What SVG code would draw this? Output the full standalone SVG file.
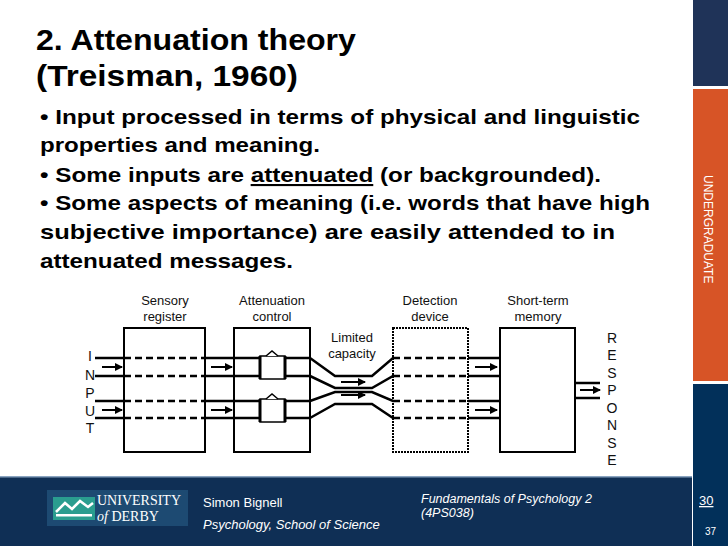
<svg xmlns="http://www.w3.org/2000/svg" width="728" height="546" viewBox="0 0 728 546">
<style>
.t{font-family:"Liberation Sans",Arial,sans-serif;font-weight:bold;fill:#000}
.d{font-family:"Liberation Sans",Arial,sans-serif;font-size:13px;fill:#111;text-anchor:middle}
.l{font-family:"Liberation Sans",Arial,sans-serif;font-size:14px;fill:#111;text-anchor:middle}
.box{fill:#fff;stroke:#000;stroke-width:2}
.sol{stroke:#000;stroke-width:2.5;fill:none}
.das{stroke:#000;stroke-width:2.5;fill:none;stroke-dasharray:7 4}
.ar{stroke:#000;stroke-width:2;marker-end:url(#ah)}
.f{font-family:"Liberation Sans",Arial,sans-serif;fill:#fff}
</style>
<defs><marker id="ah" markerWidth="8" markerHeight="8" refX="7" refY="4" orient="auto" markerUnits="userSpaceOnUse"><path d="M0,0L8,4L0,8z" fill="#000"/></marker></defs>
<rect width="728" height="546" fill="#fff"/>
<rect x="693" y="0" width="35" height="86" fill="#1f3358"/>
<rect x="693" y="89" width="35" height="292" fill="#d75426"/>
<rect x="693" y="384" width="35" height="162" fill="#02305a"/>
<text class="f" font-size="12" transform="translate(704,175) rotate(90)">UNDERGRADUATE</text>
<text class="t" font-size="29" x="36" y="50" textLength="320" lengthAdjust="spacingAndGlyphs">2. Attenuation theory</text>
<text class="t" font-size="29" x="36" y="86" textLength="262" lengthAdjust="spacingAndGlyphs">(Treisman, 1960)</text>
<g class="t" font-size="21">
<text x="40" y="124" textLength="600" lengthAdjust="spacingAndGlyphs">• Input processed in terms of physical and linguistic</text>
<text x="40" y="152" textLength="280" lengthAdjust="spacingAndGlyphs">properties and meaning.</text>
<text x="40" y="182" textLength="561" lengthAdjust="spacingAndGlyphs">• Some inputs are <tspan text-decoration="underline">attenuated</tspan> (or backgrounded).</text>
<text x="40" y="210" textLength="610" lengthAdjust="spacingAndGlyphs">• Some aspects of meaning (i.e. words that have high</text>
<text x="40" y="239" textLength="575" lengthAdjust="spacingAndGlyphs">subjective importance) are easily attended to in</text>
<text x="40" y="268" textLength="253" lengthAdjust="spacingAndGlyphs">attenuated messages.</text>
</g>
<g id="labels">
<text class="d" x="165" y="305">Sensory</text><text class="d" x="165" y="321">register</text>
<text class="d" x="272" y="305">Attenuation</text><text class="d" x="272" y="321">control</text>
<text class="d" x="430" y="305">Detection</text><text class="d" x="430" y="321">device</text>
<text class="d" x="538" y="305">Short-term</text><text class="d" x="538" y="321">memory</text>
<text class="d" x="352" y="342">Limited</text><text class="d" x="352" y="358">capacity</text>
<g class="l"><text x="90" y="361">I</text><text x="90" y="380">N</text><text x="90" y="398">P</text><text x="90" y="416">U</text><text x="90" y="433">T</text></g>
<g class="l"><text x="612" y="343">R</text><text x="612" y="360">E</text><text x="612" y="378">S</text><text x="612" y="395">P</text><text x="612" y="413">O</text><text x="612" y="430">N</text><text x="612" y="448">S</text><text x="612" y="465">E</text></g>
</g>
<g id="connectors">
<path class="sol" d="M95,358H234M95,376H234M95,401H234M95,418H234"/>
<path class="sol" d="M310,358L335,376H372L393,358H500M310,376L335,388H372L393,376H500M310,401L335,392H372L393,401H500M310,418L335,404H372L393,418H500"/>
<path class="sol" d="M575,383H600M575,398H600"/>
<line class="ar" x1="102" y1="367" x2="122" y2="367"/><line class="ar" x1="102" y1="410" x2="122" y2="410"/>
<line class="ar" x1="211" y1="367" x2="232" y2="367"/><line class="ar" x1="211" y1="410" x2="232" y2="410"/>
<line class="ar" x1="341" y1="382" x2="365" y2="382"/><line class="ar" x1="341" y1="395" x2="365" y2="395"/>
<line class="ar" x1="475" y1="367" x2="497" y2="367"/><line class="ar" x1="475" y1="410" x2="497" y2="410"/>
<line class="ar" x1="580" y1="390" x2="600" y2="390"/>
</g>
<g id="sensory"><rect class="box" x="124" y="328" width="81" height="124"/><path class="das" d="M124,358H205M124,376H205M124,401H205M124,418H205"/></g>
<g id="attenuation"><rect class="box" x="234" y="328" width="76" height="124" stroke-width="1.5"/>
<path class="sol" d="M234,358H310M234,376H310M234,401H310M234,418H310"/>
<g fill="#fff" stroke="#000" stroke-width="1.5"><rect x="260" y="356" width="25" height="23"/><rect x="260" y="399" width="25" height="23"/><path d="M266,356l6,-5l6,5M266,399l6,-5l6,5"/></g>
<path stroke="#000" stroke-width="3" d="M260,356v23M285,356v23M260,399v23M285,399v23"/></g>
<g id="detection"><rect class="box" x="393" y="328" width="75" height="124" stroke-dasharray="2 1"/><path class="das" d="M393,358H468M393,376H468M393,401H468M393,418H468"/></g>
<g id="stm"><rect class="box" x="500" y="328" width="75" height="124"/></g>
<rect x="0" y="477" width="692" height="69" fill="#0f2f55"/>
<rect x="0" y="476" width="692" height="1.5" fill="#8aa4c0"/>
<rect x="47" y="490" width="141" height="36" fill="#1d4a72"/>
<rect x="53" y="497" width="42" height="23" fill="#2a9d8f"/>
<path d="M56,512l9,-9l7,6l8,-8l8,6l5,-4" fill="none" stroke="#fff" stroke-width="2.5"/>
<rect x="56" y="514" width="36" height="2.5" fill="#fff"/>
<text x="97" y="505" font-family="Liberation Serif,serif" font-size="14" fill="#fff">UNIVERSITY</text>
<text x="97" y="521" font-family="Liberation Serif,serif" font-size="14" fill="#fff"><tspan font-style="italic">of</tspan> DERBY</text>
<text class="f" x="203" y="507" font-size="13">Simon Bignell</text>
<text class="f" x="203" y="529" font-size="13" font-style="italic">Psychology, School of Science</text>
<text class="f" x="421" y="503" font-size="12.5" font-style="italic">Fundamentals of Psychology 2</text>
<text class="f" x="421" y="517" font-size="12.5" font-style="italic">(4PS038)</text>
<text class="f" x="699" y="505" font-size="13" text-decoration="underline">30 </text>
<text class="f" x="705" y="535" font-size="10">37</text>
</svg>
